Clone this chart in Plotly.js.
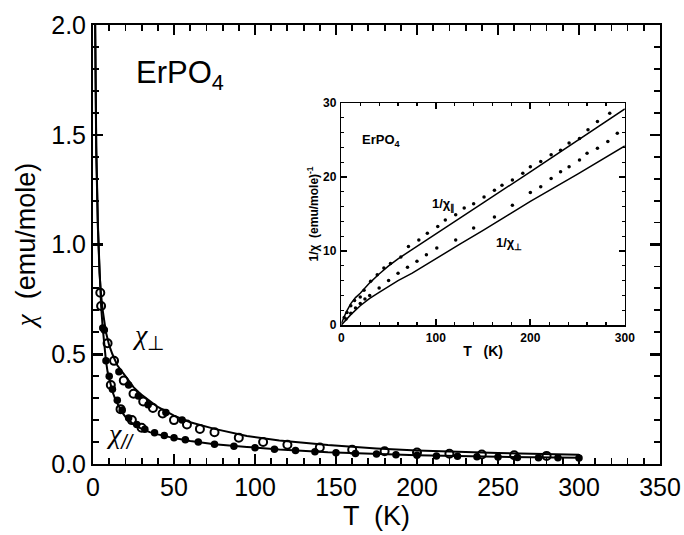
<!DOCTYPE html>
<html>
<head>
<meta charset="utf-8">
<script src="https://cdn.plot.ly/plotly-3.0.1.min.js"></script>
<style>html,body{margin:0;padding:0;background:#fff;}#chart{width:684px;height:535px;}</style>
</head>
<body>
<div id="chart"></div>
<script>
// ---------- main panel: chi vs T ----------
const perpFitT   = [1, 1.5, 2, 3, 4, 5, 6, 8, 10, 12, 15, 20, 25, 30, 40, 50, 60, 75, 95, 115, 145, 175, 200, 250, 300];
const perpFitChi = [2.3, 1.75, 1.45, 1.1, 0.87, 0.77, 0.7, 0.6, 0.54, 0.5, 0.45, 0.4, 0.35, 0.315, 0.26, 0.22, 0.19, 0.16, 0.128, 0.107, 0.086, 0.071, 0.062, 0.05, 0.042];

const parFitT    = [1, 1.5, 2, 3, 4, 5, 6, 7, 8, 9, 10, 12, 14, 16, 18, 20, 25, 30, 35, 40, 50, 60, 75, 95, 115, 145, 175, 200, 250, 300];
const parFitChi  = [2.25, 1.72, 1.42, 1.08, 0.85, 0.72, 0.62, 0.54, 0.47, 0.42, 0.39, 0.33, 0.29, 0.26, 0.235, 0.215, 0.18, 0.16, 0.145, 0.135, 0.118, 0.105, 0.09, 0.078, 0.066, 0.053, 0.045, 0.04, 0.033, 0.028];

const perpOpenT   = [5, 9, 13, 19, 25, 31, 37, 43, 50, 58, 66, 75, 90, 105, 120, 140, 160, 180, 200, 220, 240, 260, 280];
const perpOpenChi = [0.72, 0.55, 0.47, 0.38, 0.32, 0.285, 0.255, 0.23, 0.2, 0.18, 0.16, 0.145, 0.12, 0.1, 0.088, 0.075, 0.065, 0.058, 0.052, 0.047, 0.043, 0.04, 0.037];
const perpFillT   = [7, 16, 22, 28, 34, 45, 55];
const perpFillChi = [0.61, 0.42, 0.36, 0.31, 0.27, 0.235, 0.2];

const parFillT    = [6, 8, 10, 12, 15, 18, 22, 27, 32, 38, 44, 50, 57, 65, 75, 87, 100, 112, 125, 137, 150, 162, 175, 187, 200, 212, 225, 237, 250, 262, 275, 287, 300];
const parFillChi  = [0.62, 0.47, 0.4, 0.34, 0.29, 0.245, 0.21, 0.18, 0.158, 0.142, 0.13, 0.12, 0.11, 0.1, 0.09, 0.081, 0.074, 0.067, 0.061, 0.056, 0.051, 0.048, 0.045, 0.042, 0.04, 0.037, 0.035, 0.033, 0.032, 0.03, 0.029, 0.028, 0.027];
const parOpenT    = [4.5, 11, 17, 24, 30];
const parOpenChi  = [0.78, 0.36, 0.25, 0.2, 0.165];

// ---------- inset: 1/chi vs T ----------
const invParFitT   = [0, 2, 5, 10, 15, 20, 30, 40, 50, 60, 70, 80, 100, 150, 200, 250, 300];
const invParFitVal = [0.2, 0.8, 1.7, 2.9, 3.7, 4.3, 5.7, 6.9, 8.0, 8.95, 9.8, 10.6, 12.3, 16.5, 20.7, 24.9, 29.2];
const invParDataT   = [3, 6, 10, 14, 20, 24, 31, 38, 45, 52, 63, 71, 82, 91, 102, 110, 121, 130, 140, 151, 162, 170, 181, 192, 200, 211, 222, 232, 241, 252, 261, 271, 284];
const invParDataVal = [1.0, 1.7, 2.6, 3.3, 3.8, 4.7, 5.9, 6.8, 7.7, 8.3, 9.2, 10.6, 11.5, 12.4, 13.3, 14.2, 14.9, 15.8, 16.4, 17.3, 18.2, 18.9, 19.6, 20.5, 21.4, 22.1, 23.0, 23.6, 24.6, 25.2, 26.4, 27.5, 28.6];

const invPerpFitT   = [0, 10, 20, 30, 40, 50, 60, 75, 100, 125, 150, 175, 200, 250, 300];
const invPerpFitVal = [0, 1.4, 2.6, 3.6, 4.4, 5.2, 6.0, 7.0, 9.0, 10.9, 12.8, 14.8, 16.7, 20.4, 24.2];
const invPerpDataT   = [5, 10, 15, 20, 25, 30, 40, 50, 60, 70, 80, 90, 101, 121, 140, 162, 181, 200, 211, 222, 232, 241, 252, 260, 271, 282, 292];
const invPerpDataVal = [0.8, 1.6, 2.3, 2.9, 3.5, 4.0, 5.0, 6.0, 7.0, 7.8, 8.6, 9.5, 10.4, 11.5, 13.1, 14.6, 16.2, 17.9, 18.7, 19.8, 20.7, 21.4, 22.3, 23.2, 23.9, 24.8, 25.9];

const SANS = 'Arial, "Liberation Sans", Helvetica, sans-serif';
const CHI = '<span style="font-family:\'Liberation Serif\',\'DejaVu Serif\',serif"><i>χ</i></span>';

const traces = [
  {x: perpFitT, y: perpFitChi, mode: 'lines', line: {color: '#000', width: 2}, xaxis: 'x', yaxis: 'y'},
  {x: parFitT, y: parFitChi, mode: 'lines', line: {color: '#000', width: 2}, xaxis: 'x', yaxis: 'y'},
  {x: perpOpenT, y: perpOpenChi, mode: 'markers', marker: {symbol: 'circle-open', size: 8, color: '#000', line: {width: 2}}, xaxis: 'x', yaxis: 'y'},
  {x: perpFillT, y: perpFillChi, mode: 'markers', marker: {symbol: 'circle', size: 7.5, color: '#000'}, xaxis: 'x', yaxis: 'y'},
  {x: parFillT, y: parFillChi, mode: 'markers', marker: {symbol: 'circle', size: 7.5, color: '#000'}, xaxis: 'x', yaxis: 'y'},
  {x: parOpenT, y: parOpenChi, mode: 'markers', marker: {symbol: 'circle-open', size: 8, color: '#000', line: {width: 2}}, xaxis: 'x', yaxis: 'y'},

  {x: invParFitT, y: invParFitVal, mode: 'lines', line: {color: '#000', width: 1.5}, xaxis: 'x2', yaxis: 'y2'},
  {x: invPerpFitT, y: invPerpFitVal, mode: 'lines', line: {color: '#000', width: 1.5}, xaxis: 'x2', yaxis: 'y2'},
  {x: invParDataT, y: invParDataVal, mode: 'markers', marker: {symbol: 'circle', size: 3.5, color: '#000'}, xaxis: 'x2', yaxis: 'y2'},
  {x: invPerpDataT, y: invPerpDataVal, mode: 'markers', marker: {symbol: 'circle', size: 3.5, color: '#000'}, xaxis: 'x2', yaxis: 'y2'}
];

const layout = {
  width: 684, height: 535,
  margin: {l: 93, r: 24, t: 25, b: 71},
  paper_bgcolor: '#fff', plot_bgcolor: '#fff',
  showlegend: false,
  font: {family: SANS, color: '#000'},
  xaxis: {
    domain: [0, 1], range: [0, 350],
    tickmode: 'linear', tick0: 0, dtick: 50,
    ticks: 'inside', ticklen: 10, tickwidth: 2.5, tickcolor: '#000',
    minor: {tickmode: 'linear', tick0: 0, dtick: 10, ticks: 'inside', ticklen: 6, tickwidth: 1.8, tickcolor: '#000'},
    showline: true, linewidth: 2, linecolor: '#000', mirror: 'allticks',
    showgrid: false, zeroline: false,
    tickfont: {family: SANS, size: 25, color: '#000'},
    title: {text: 'T  (K)', font: {family: SANS, size: 27, color: '#000'}, standoff: 2}
  },
  yaxis: {
    domain: [0, 1], range: [0, 2.0],
    tickmode: 'linear', tick0: 0, dtick: 0.5, tickformat: '.1f',
    ticks: 'inside', ticklen: 10, tickwidth: 2.5, tickcolor: '#000',
    minor: {tickmode: 'linear', tick0: 0, dtick: 0.1, ticks: 'inside', ticklen: 6, tickwidth: 1.8, tickcolor: '#000'},
    showline: true, linewidth: 2, linecolor: '#000', mirror: 'allticks',
    showgrid: false, zeroline: false,
    tickfont: {family: SANS, size: 25, color: '#000'},
    title: {text: CHI + '  (emu/mole)', font: {family: SANS, size: 27, color: '#000'}, standoff: 8}
  },
  xaxis2: {
    anchor: 'y2', domain: [0.438, 0.938], range: [0, 300],
    tickmode: 'linear', tick0: 0, dtick: 100,
    ticks: 'inside', ticklen: 6, tickwidth: 1.8, tickcolor: '#000',
    minor: {tickmode: 'linear', tick0: 0, dtick: 20, ticks: 'inside', ticklen: 3, tickwidth: 1.2, tickcolor: '#000'},
    showline: true, linewidth: 1.5, linecolor: '#000', mirror: 'allticks',
    showgrid: false, zeroline: false,
    tickfont: {family: SANS, size: 12, color: '#000', weight: 'bold'},
    ticklabelstandoff: 1,
    title: {text: 'T   (K)', font: {family: SANS, size: 14, color: '#000', weight: 'bold'}, standoff: 2}
  },
  yaxis2: {
    anchor: 'x2', domain: [0.3166, 0.8223], range: [0, 30],
    tickmode: 'linear', tick0: 0, dtick: 10,
    ticks: 'inside', ticklen: 6, tickwidth: 1.8, tickcolor: '#000',
    minor: {tickmode: 'linear', tick0: 0, dtick: 2, ticks: 'inside', ticklen: 3, tickwidth: 1.2, tickcolor: '#000'},
    showline: true, linewidth: 1.5, linecolor: '#000', mirror: 'allticks',
    showgrid: false, zeroline: false,
    tickfont: {family: SANS, size: 12, color: '#000', weight: 'bold'},
    ticklabelstandoff: 1,
    title: {text: '1/χ  (emu/mole)<sup>-1</sup>', font: {family: SANS, size: 12, color: '#000', weight: 'bold'}, standoff: 2}
  },
  annotations: [
    {xref: 'x', yref: 'y', x: 54, y: 1.77, text: 'ErPO<sub>4</sub>', showarrow: false,
     font: {family: SANS, size: 31, color: '#000'}},
    {xref: 'x', yref: 'y', x: 34, y: 0.58, text: CHI + '<sub>⊥</sub>', showarrow: false,
     font: {family: SANS, size: 28, color: '#000'}},
    {xref: 'x', yref: 'y', x: 17, y: 0.13, text: CHI + '<sub><i>//</i></sub>', showarrow: false,
     font: {family: SANS, size: 28, color: '#000'}},
    {xref: 'x2', yref: 'y2', x: 43, y: 25, text: 'ErPO<sub>4</sub>', showarrow: false,
     font: {family: SANS, size: 13, color: '#000', weight: 'bold'}},
    {xref: 'x2', yref: 'y2', x: 108, y: 16.2, text: '1/χ<sub>∥</sub>', showarrow: false,
     font: {family: SANS, size: 13, color: '#000', weight: 'bold'}},
    {xref: 'x2', yref: 'y2', x: 177, y: 11, text: '1/χ<sub>⊥</sub>', showarrow: false,
     font: {family: SANS, size: 13, color: '#000', weight: 'bold'}}
  ]
};

Plotly.newPlot('chart', traces, layout, {staticPlot: true, displayModeBar: false});
</script>
</body>
</html>
